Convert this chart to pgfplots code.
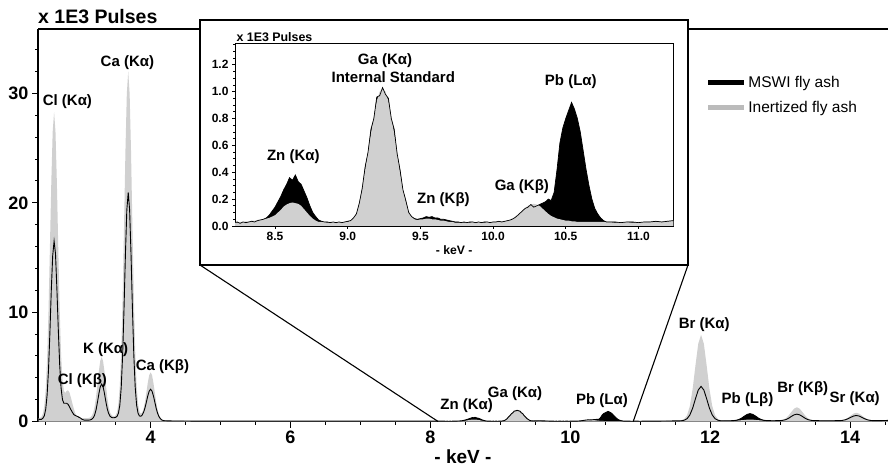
\documentclass[border=0pt]{standalone}
\usepackage{fontspec}
\setmainfont{Liberation Sans}
\usepackage{pgfplots}
\usepackage{pgfplotstable}
\pgfplotsset{compat=1.18}
\definecolor{InertGray}{HTML}{D0D0D0}
\definecolor{LegendGray}{HTML}{BBBBBB}
\newcommand{\fs}[1]{\fontsize{#1}{#1}\selectfont}

% E in keV, G = inertized fly ash, B = MSWI fly ash (x 1E3 pulses)
\pgfplotstableread{
E G B
2.40 0.31 0.20
2.42 0.34 0.20
2.44 0.43 0.20
2.46 0.71 0.30
2.48 1.40 0.52
2.50 2.90 1.11
2.52 5.65 2.40
2.54 10.0 4.70
2.56 15.8 8.10
2.58 21.8 12.0
2.60 26.5 15.15
2.62 28.3 16.5
2.64 26.5 15.35
2.66 21.8 12.16
2.68 15.8 8.45
2.70 10.2 5.20
2.72 6.1 3.05
2.74 3.8 2.00
2.76 2.8 1.67
2.78 2.6 1.67
2.80 2.8 1.67
2.82 2.85 1.57
2.84 2.65 1.35
2.86 2.2 1.09
2.88 1.7 0.86
2.90 1.2 0.65
2.92 0.8 0.56
2.94 0.55 0.50
2.96 0.40 0.45
2.98 0.32 0.38
3.00 0.30 0.30
3.02 0.30 0.20
3.04 0.30 0.15
3.06 0.30 0.12
3.08 0.31 0.12
3.10 0.31 0.12
3.12 0.33 0.13
3.14 0.38 0.15
3.16 0.52 0.21
3.18 0.82 0.34
3.20 1.37 0.60
3.22 2.24 1.07
3.24 3.39 1.76
3.26 4.60 2.52
3.28 5.54 3.17
3.30 5.90 3.43
3.32 5.54 3.20
3.34 4.60 2.58
3.36 3.39 1.83
3.38 2.24 1.17
3.40 1.37 0.73
3.42 0.82 0.48
3.44 0.60 0.38
3.46 0.50 0.34
3.48 0.47 0.35
3.50 0.56 0.38
3.52 0.86 0.47
3.54 1.64 0.76
3.56 3.30 1.50
3.58 6.40 3.13
3.60 11.4 6.08
3.62 17.8 10.38
3.64 24.7 15.3
3.66 30.0 19.35
3.68 32.0 20.95
3.70 30.0 19.35
3.72 24.7 15.3
3.74 17.8 10.38
3.76 11.4 6.08
3.78 6.4 3.13
3.80 3.3 1.50
3.82 1.66 0.77
3.84 0.92 0.51
3.86 0.71 0.48
3.88 0.82 0.59
3.90 1.18 0.85
3.92 1.82 1.25
3.94 2.66 1.79
3.96 3.55 2.35
3.98 4.24 2.78
4.00 4.50 2.95
4.02 4.24 2.78
4.04 3.55 2.35
4.06 2.66 1.79
4.08 1.77 1.20
4.10 1.08 0.75
4.12 0.63 0.44
4.14 0.36 0.25
4.16 0.21 0.14
4.18 0.14 0.09
4.20 0.10 0.07
4.25 0.08 0.06
4.30 0.07 0.05
4.40 0.06 0.05
4.60 0.05 0.04
4.80 0.06 0.04
5.00 0.05 0.04
5.50 0.05 0.04
6.00 0.04 0.04
6.50 0.04 0.03
7.00 0.04 0.03
7.50 0.04 0.03
8.00 0.04 0.03
8.10 0.03 0.03
8.20 0.03 0.03
8.22 0.03 0.025
8.24 0.025 0.03
8.26 0.03 0.02
8.28 0.03 0.03
8.30 0.035 0.025
8.32 0.03 0.03
8.34 0.04 0.035
8.36 0.04 0.03
8.38 0.045 0.04
8.40 0.05 0.045
8.42 0.05 0.05
8.44 0.055 0.06
8.46 0.06 0.08
8.48 0.07 0.11
8.50 0.08 0.14
8.52 0.10 0.18
8.54 0.12 0.22
8.56 0.145 0.27
8.58 0.16 0.31
8.60 0.17 0.36
8.62 0.175 0.34
8.64 0.17 0.38
8.66 0.165 0.33
8.68 0.15 0.31
8.70 0.125 0.26
8.72 0.10 0.21
8.74 0.075 0.15
8.76 0.055 0.10
8.78 0.04 0.07
8.80 0.03 0.045
8.82 0.03 0.035
8.84 0.03 0.03
8.86 0.025 0.03
8.88 0.03 0.025
8.90 0.03 0.03
8.92 0.025 0.025
8.94 0.03 0.03
8.96 0.03 0.025
8.98 0.03 0.03
9.00 0.03 0.035
9.02 0.04 0.04
9.04 0.06 0.06
9.06 0.10 0.09
9.08 0.18 0.17
9.10 0.30 0.28
9.12 0.42 0.44
9.14 0.56 0.55
9.16 0.69 0.72
9.18 0.82 0.80
9.20 0.93 0.96
9.22 1.00 0.97
9.24 1.02 1.03
9.26 1.00 0.98
9.28 0.93 0.95
9.30 0.82 0.80
9.32 0.69 0.72
9.34 0.56 0.54
9.36 0.40 0.42
9.38 0.28 0.27
9.40 0.18 0.19
9.42 0.11 0.10
9.44 0.07 0.07
9.46 0.05 0.055
9.48 0.045 0.05
9.50 0.05 0.055
9.52 0.05 0.06
9.54 0.055 0.07
9.56 0.055 0.065
9.58 0.05 0.07
9.60 0.05 0.06
9.62 0.045 0.06
9.64 0.04 0.05
9.66 0.04 0.05
9.68 0.035 0.045
9.70 0.03 0.04
9.72 0.03 0.035
9.74 0.025 0.03
9.76 0.025 0.03
9.78 0.03 0.025
9.80 0.025 0.03
9.82 0.03 0.025
9.84 0.025 0.03
9.86 0.03 0.03
9.88 0.025 0.025
9.90 0.03 0.03
9.92 0.03 0.025
9.94 0.025 0.03
9.96 0.03 0.03
9.98 0.03 0.025
10.00 0.03 0.03
10.02 0.03 0.03
10.04 0.03 0.035
10.06 0.03 0.03
10.08 0.035 0.035
10.10 0.04 0.04
10.12 0.05 0.045
10.14 0.06 0.055
10.16 0.075 0.07
10.18 0.095 0.09
10.20 0.115 0.11
10.22 0.135 0.13
10.24 0.15 0.14
10.26 0.16 0.16
10.28 0.165 0.14
10.30 0.16 0.15
10.32 0.15 0.16
10.34 0.13 0.17
10.36 0.11 0.18
10.38 0.09 0.20
10.40 0.075 0.19
10.42 0.065 0.25
10.44 0.055 0.42
10.46 0.05 0.62
10.48 0.045 0.73
10.50 0.04 0.80
10.52 0.04 0.86
10.54 0.035 0.92
10.56 0.035 0.87
10.58 0.03 0.80
10.60 0.03 0.70
10.62 0.03 0.56
10.64 0.03 0.42
10.66 0.03 0.30
10.68 0.03 0.20
10.70 0.03 0.13
10.72 0.03 0.09
10.74 0.03 0.06
10.76 0.03 0.04
10.78 0.03 0.03
10.80 0.03 0.03
10.84 0.025 0.03
10.88 0.03 0.025
10.92 0.03 0.03
10.96 0.025 0.03
11.00 0.03 0.025
11.04 0.03 0.03
11.08 0.035 0.03
11.12 0.03 0.035
11.16 0.035 0.03
11.20 0.04 0.035
11.24 0.04 0.04
11.28 0.045 0.04
11.35 0.05 0.045
11.45 0.06 0.05
11.55 0.08 0.06
11.59 0.11 0.07
11.63 0.23 0.12
11.67 0.57 0.26
11.71 1.41 0.60
11.75 2.98 1.22
11.79 5.12 2.08
11.83 7.11 2.88
11.87 7.93 3.21
11.91 7.11 2.88
11.95 5.12 2.08
11.99 2.98 1.22
12.03 1.41 0.60
12.07 0.57 0.26
12.11 0.23 0.12
12.15 0.11 0.07
12.20 0.09 0.07
12.25 0.08 0.07
12.29 0.08 0.07
12.33 0.08 0.08
12.37 0.08 0.11
12.41 0.10 0.18
12.45 0.12 0.31
12.49 0.14 0.49
12.53 0.17 0.65
12.57 0.18 0.72
12.61 0.17 0.65
12.65 0.14 0.49
12.69 0.12 0.31
12.73 0.10 0.18
12.77 0.08 0.11
12.81 0.08 0.08
12.90 0.08 0.07
13.00 0.10 0.08
13.04 0.16 0.11
13.08 0.29 0.17
13.12 0.53 0.29
13.16 0.86 0.46
13.20 1.17 0.61
13.24 1.30 0.67
13.28 1.17 0.61
13.32 0.86 0.46
13.36 0.53 0.29
13.40 0.29 0.17
13.44 0.16 0.11
13.48 0.10 0.08
13.60 0.09 0.07
13.75 0.09 0.07
13.85 0.09 0.08
13.89 0.13 0.10
13.93 0.20 0.15
13.97 0.35 0.25
14.01 0.54 0.38
14.05 0.72 0.50
14.09 0.80 0.55
14.13 0.72 0.50
14.17 0.54 0.38
14.21 0.35 0.25
14.25 0.20 0.15
14.29 0.13 0.10
14.33 0.09 0.08
14.40 0.10 0.08
14.48 0.12 0.09
14.55 0.14 0.10
}\spectrum

\begin{document}
\begin{tikzpicture}[x=1pt,y=1pt]
\useasboundingbox (0,0) rectangle (888,469);

% ---- main spectrum ----
\begin{axis}[
  scale only axis,
  width=850pt, height=392.5pt,
  at={(38pt,47.5pt)}, anchor=south west,
  xmin=2.39, xmax=14.543, ymin=0, ymax=35.9,
  axis x line*=bottom, axis y line*=left,
  axis line style={line width=1.2pt},
  clip mode=individual,
  tick align=outside,
  major tick length=6pt, minor tick length=3pt,
  tick style={black, line width=1pt},
  xtick={4,6,...,14}, minor xtick={2.5,3,...,14.5},
  ytick={0,10,20,30}, minor ytick={2,4,...,34},
  /pgf/number format/assume math mode=true,
  tick label style={font=\fs{18}\bfseries},
  xlabel={- keV -},
  xlabel style={font=\fs{19}\bfseries, at={(axis description cs:0.5,-0.09)}, anchor=center},
  legend image code/.code={\draw[#1, line width=4.5pt] (0pt,0pt) -- (36pt,0pt);},
  legend style={at={(rel axis cs:0.782,0.890)}, anchor=north west, draw=none, fill=none,
    font=\fs{15.5}, row sep=8pt},
  legend cell align=left,
]
\addplot[fill=black, draw=none, forget plot] table[x=E,y=B]{\spectrum} \closedcycle;
\addplot[fill=InertGray, draw=none, forget plot] table[x=E,y=G]{\spectrum} \closedcycle;
\addplot[black, line width=0.9pt, forget plot] table[x=E,y=B]{\spectrum};

\addlegendimage{black}
\addlegendentry{MSWI fly ash}
\addlegendimage{LegendGray}
\addlegendentry{Inertized fly ash}

\draw[line width=1.2pt] (rel axis cs:0,1) -- (rel axis cs:1,1);
\coordinate (zl) at (axis cs:8.11,0);
\coordinate (zr) at (axis cs:10.90,0);

\begin{scope}[font=\fs{15}\bfseries]
\node at (axis cs:2.81,29.3) {Cl (Kα)};
\node at (axis cs:3.668,32.8) {Ca (Kα)};
\node at (axis cs:3.358,6.54) {K (Kα)};
\node at (axis cs:3.025,3.7) {Cl (Kβ)};
\node at (axis cs:4.169,5.0) {Ca (Kβ)};
\node at (axis cs:8.519,1.42) {Zn (Kα)};
\node at (axis cs:9.21,2.52) {Ga (Kα)};
\node at (axis cs:10.454,1.88) {Pb (Lα)};
\node at (axis cs:11.915,8.83) {Br (Kα)};
\node at (axis cs:12.534,1.97) {Pb (Lβ)};
\node at (axis cs:13.325,3.04) {Br (Kβ)};
\node at (axis cs:14.067,2.12) {Sr (Kα)};
\end{scope}
\end{axis}
\node[anchor=base west, inner sep=0pt, font=\fs{19.5}\bfseries] at (38,445) {x 1E3 Pulses};

% ---- inset ----
\draw[line width=1.2pt, fill=white] (200,204) rectangle (688,449);
\begin{axis}[
  scale only axis,
  width=438.3pt, height=182.7pt,
  at={(235pt,243pt)}, anchor=south west,
  xmin=8.225, xmax=11.24, ymin=0, ymax=1.36,
  axis line style={line width=0.9pt},
  clip mode=individual,
  tick pos=left, tick align=outside,
  major tick length=3pt, minor tick length=1.8pt,
  tick style={black, line width=0.7pt},
  xtick={8.5,9,...,11}, ytick={0,0.2,...,1.2}, minor ytick={0.05,0.1,...,1.35},
  /pgf/number format/assume math mode=true,
  /pgf/number format/.cd, fixed, fixed zerofill, precision=1, /pgfplots/.cd,
  tick label style={font=\fs{12}\bfseries},
  xlabel={- keV -},
  xlabel style={font=\fs{12.2}\bfseries, at={(axis description cs:0.5,-0.131)}, anchor=center},
]
\addplot[fill=black, draw=none] table[x=E,y=B]{\spectrum} \closedcycle;
\addplot[fill=InertGray, draw=none] table[x=E,y=G]{\spectrum} \closedcycle;
\addplot[black, line width=0.7pt] table[x=E,y=B]{\spectrum};

\node[anchor=west, inner sep=0pt, font=\fs{12.4}\bfseries] at (rel axis cs:0.003,1.033) {x 1E3 Pulses};
\begin{scope}[font=\fs{15}\bfseries]
\node at (axis cs:8.626,0.52) {Zn (Kα)};
\node at (axis cs:9.257,1.23) {Ga (Kα)};
\node at (axis cs:9.314,1.105) {Internal Standard};
\node at (axis cs:9.659,0.20) {Zn (Kβ)};
\node at (axis cs:10.198,0.29) {Ga (Kβ)};
\node at (axis cs:10.535,1.075) {Pb (Lα)};
\end{scope}
\end{axis}

\draw[line width=1.1pt] (200,204) -- (zl);
\draw[line width=1.1pt] (688,204) -- (zr);
\end{tikzpicture}
\end{document}
